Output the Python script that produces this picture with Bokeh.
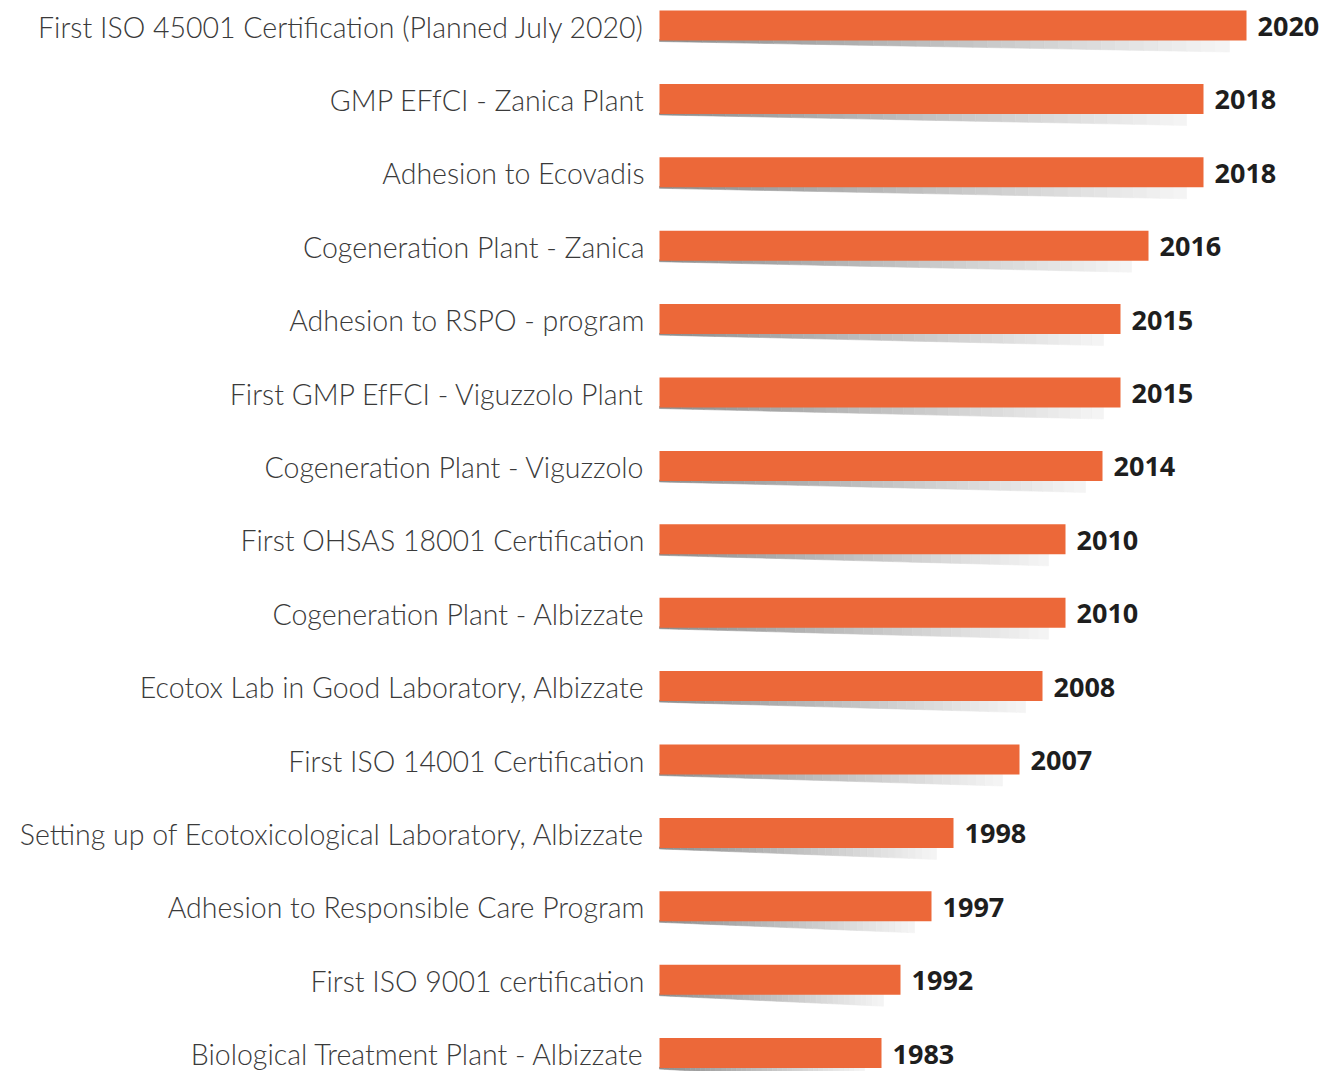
from bokeh.plotting import figure
from bokeh.models import Range1d
from bokeh.core.properties import value
from bokeh.embed import file_html
from bokeh.resources import INLINE

milestones = [
    "First ISO 45001 Certification (Planned July 2020)",
    "GMP EFfCI - Zanica Plant",
    "Adhesion to Ecovadis",
    "Cogeneration Plant - Zanica",
    "Adhesion to RSPO - program",
    "First GMP EfFCI - Viguzzolo Plant",
    "Cogeneration Plant - Viguzzolo",
    "First OHSAS 18001 Certification",
    "Cogeneration Plant - Albizzate",
    "Ecotox Lab in Good Laboratory, Albizzate",
    "First ISO 14001 Certification",
    "Setting up of Ecotoxicological Laboratory, Albizzate",
    "Adhesion to Responsible Care Program",
    "First ISO 9001 certification",
    "Biological Treatment Plant - Albizzate",
]
years = ["2020", "2018", "2018", "2016", "2015", "2015", "2014", "2010",
         "2010", "2008", "2007", "1998", "1997", "1992", "1983"]
bar_length = [587, 544, 544, 489, 461, 461, 443, 406, 406, 383, 360, 294, 272, 241, 222]

rows = list(range(len(milestones)))

W, H = 1319, 1071
ROW_PX = 73.4
TOP_PX = 25.0
PX = 1.0 / ROW_PX

p = figure(width=W, height=H, output_backend="svg", toolbar_location=None,
           x_range=Range1d(-659, W - 659),
           y_range=Range1d((H - TOP_PX) / ROW_PX, -TOP_PX / ROW_PX),
           x_axis_type=None, y_axis_type=None, min_border=0)
p.grid.visible = False
p.outline_line_color = None
p.background_fill_color = "white"
p.border_fill_color = "white"

# gradient wedge shadow under each bar
xs, ys, cols = [], [], []
N = 40
for r, L in zip(rows, bar_length):
    top = r + 14 * PX
    S = L - 17
    for k in range(N):
        x0 = S * k / N
        x1 = S * (k + 1) / N
        t0 = 2 + 10.5 * k / N
        t1 = 2 + 10.5 * (k + 1) / N
        xs.append([x0, x1, x1, x0])
        ys.append([top, top, top + t1 * PX, top + t0 * PX])
        f = (k + 0.5) / N
        g = int(140 + (246 - 140) * f)
        cols.append(f"#{g:02x}{g:02x}{g:02x}")
p.patches(xs, ys, fill_color=cols, line_color=cols, line_width=0.6)

p.hbar(y=rows, left=0, right=bar_length, height=30 * PX,
       fill_color="#EC6839", line_color=None)

p.text(x=0, y=rows, text=milestones, x_offset=-15, y_offset=1,
       text_align="right", text_baseline="middle",
       text_font=value("Lato Light"), text_font_size="28.5px",
       text_color="#3a3a3a")

p.text(x=bar_length, y=rows, text=years, x_offset=11, y_offset=1,
       text_align="left", text_baseline="middle",
       text_font=value("Open Sans"), text_font_style="bold",
       text_font_size="27px", text_color="#1e1e1e")

open("out.html", "w").write(file_html(p, INLINE))
